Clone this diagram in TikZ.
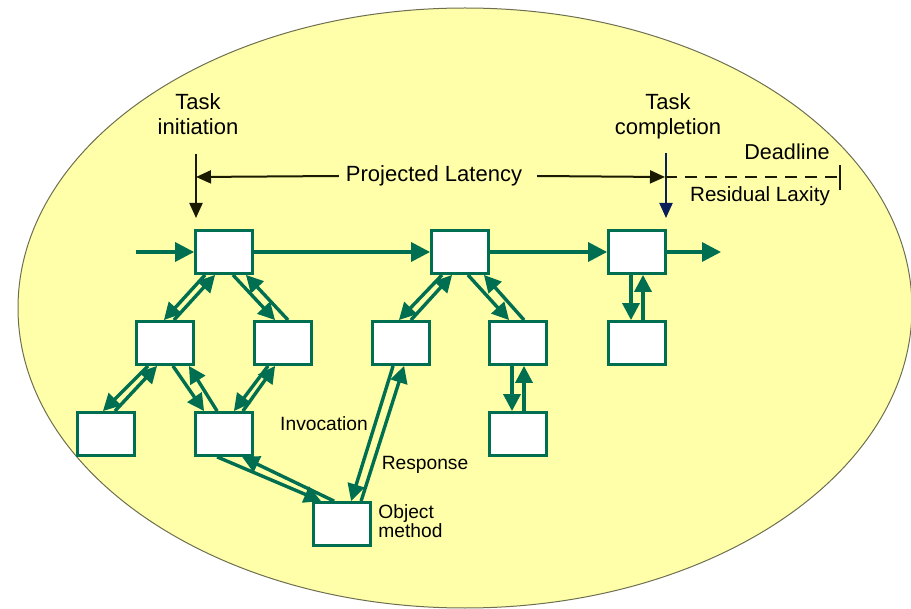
\documentclass[tikz,border=0pt]{standalone}
\usepackage{fontspec}
\setmainfont{Liberation Sans}
\usetikzlibrary{arrows.meta,positioning,calc}
\definecolor{FlowGreen}{HTML}{006E50}
\definecolor{EllipseYellow}{HTML}{FFFFAA}
\definecolor{EllipseEdge}{HTML}{6E6E50}
\definecolor{ArrowNavy}{HTML}{0A1E5A}
\definecolor{LabelBlack}{HTML}{1A1A00}
\tikzset{
    % white task boxes
    objbox/.style={
        rectangle,
        draw=FlowGreen,
        line width=1.4pt,
        fill=white,
        minimum width=28.5pt,
        minimum height=21.5pt,
        inner sep=0pt
    },
    flow/.style={
        -{Triangle[length=8.5pt,width=8.5pt]},
        line width=1.7pt,
        color=FlowGreen
    },
    flow main/.style={
        flow,
        -{Triangle[length=9.5pt,width=9.5pt]}
    },
    timeline/.style={
        -{Triangle[length=7.5pt,width=6.5pt]},
        line width=1pt,
        color=LabelBlack
    },
    big label/.style={
        font=\fontsize{11}{12.5}\selectfont,
        align=center,
        text=black
    },
    small label/.style={
        font=\fontsize{9.6}{9.6}\selectfont,
        align=left,
        text=black
    }
}
\begin{document}
\begin{tikzpicture}[x=0.5pt, y=-0.5pt]
    \useasboundingbox (0,0) rectangle (911,609);
    \fill[EllipseYellow, draw=EllipseEdge, line width=0.5pt] (465,308) ellipse [x radius=223.5pt, y radius=150pt];

    % boxes
    \node[objbox] (A) at (224,252) {};
    \node[objbox] (B) at (460,252) {};
    \node[objbox] (C) at (637,252) {};
    \node[objbox] (A1) at (165,343) {};
    \node[objbox] (A2) at (283,343) {};
    \node[objbox] (B1) at (401,343) {};
    \node[objbox] (B2) at (518,343) {};
    \node[objbox] (C1) at (637,343) {};
    \node[objbox] (A11) at (106,434) {};
    \node[objbox] (A12) at (224,434) {};
    \node[objbox] (B21) at (518,434) {};
    \node[objbox] (obj) at (342,524) {};

    % main flow
    \coordinate (flowin) at (136,252);
    \coordinate (flowout) at (721,252);
    \draw[flow main] (flowin) -- (A.west);
    \draw[flow main] (A) -- (B);
    \draw[flow main] (B) -- (C);
    \draw[flow main] (C.east) -- (flowout);

    % invocations and responses
    \draw[flow] ($(A.south west)+(11,0)$) -- ($(A1.north east)+(-31,0)$);
    \draw[flow] ($(A1.north east)+(-21,0)$) -- ($(A.south west)+(21,0)$);
    \draw[flow] ($(A.south east)+(-21,0)$) -- ($(A2.north west)+(22,0)$);
    \draw[flow] ($(A2.north west)+(35,0)$) -- ($(A.south east)+(-8,0)$);

    \draw[flow] ($(A1.south west)+(13,0)$) -- ($(A11.north east)+(-33,0)$);
    \draw[flow] ($(A11.north east)+(-21,0)$) -- ($(A1.south west)+(22,0)$);
    \draw[flow] ($(A1.south east)+(-22,0)$) -- ($(A12.north west)+(10,0)$);
    \draw[flow] ($(A12.north west)+(23,0)$) -- ($(A1.south east)+(-6,0)$);
    \draw[flow] ($(A2.south west)+(15,0)$) -- ($(A12.north east)+(-20,0)$);
    \draw[flow] ($(A12.north east)+(-11,0)$) -- ($(A2.south west)+(22,0)$);

    \draw[flow] ($(B.south west)+(12,0)$) -- ($(B1.north east)+(-32,0)$);
    \draw[flow] ($(B1.north east)+(-20,0)$) -- ($(B.south west)+(22,0)$);
    \draw[flow] ($(B.south east)+(-22,0)$) -- ($(B2.north west)+(21,0)$);
    \draw[flow] ($(B2.north west)+(36,0)$) -- ($(B.south east)+(-6,0)$);

    \draw[flow] ($(B2.south)+(-6,0)$) -- ($(B21.north)+(-6,0)$);
    \draw[flow] ($(B21.north)+(6,0)$) -- ($(B2.south)+(6,0)$);
    \draw[flow] ($(C.south)+(-6,0)$) -- ($(C1.north)+(-6,0)$);
    \draw[flow] ($(C1.north)+(6,0)$) -- ($(C.south)+(6,0)$);

    \draw[flow] ($(A12.south west)+(23,0)$) -- ($(obj.north west)+(9,0)$);
    \draw[flow] ($(obj.north west)+(22,0)$) -- ($(A12.south west)+(48,0)$);
    \draw[flow] ($(B1.south west)+(22,0)$) -- ($(obj.north west)+(39,0)$);
    \draw[flow] ($(obj.north west)+(49,0)$) -- ($(B1.south west)+(33,0)$);

    % labels
    \node[big label] (initiation) at (198,114) {Task\\initiation};
    \node[big label] (completion) at (668,116) {Task\\completion};
    \node[big label] (latency) at (434,176) {Projected Latency};
    \node[big label, font=\fontsize{10.8}{12}\selectfont] (deadline) at (787,152) {Deadline};
    \node[big label, font=\fontsize{10.3}{12}\selectfont] (laxity) at (760,196) {Residual Laxity};
    \node[small label] (invocation) at (324,424) {Invocation};
    \node[small label] (response) at (425,465) {Response};
    \node[small label, anchor=west, inner sep=0pt] (objlabel) at (378,521) {Object\\method};

    % time line
    \coordinate (initTop) at (196,154);
    \coordinate (initTip) at (196,218);
    \coordinate (latLeft) at (196,177);
    \coordinate (latRight) at (665,177);
    \coordinate (doneTop) at (666,153);
    \coordinate (doneTip) at (666,218);
    \coordinate (deadEnd) at (840,177);
    \draw[timeline] (initTop) -- (initTip);
    \draw[timeline] (latency.west) -- (latLeft);
    \draw[timeline] ($(latency.east)+(8,0)$) -- (latRight);
    \draw[timeline, color=ArrowNavy] (doneTop) -- (doneTip);
    \draw[LabelBlack, line width=1pt, dash pattern=on 6pt off 4pt] (latRight) -- (deadEnd);
    \draw[LabelBlack, line width=1pt] ($(deadEnd)+(0,-12)$) -- ($(deadEnd)+(0,13)$);
\end{tikzpicture}
\end{document}
